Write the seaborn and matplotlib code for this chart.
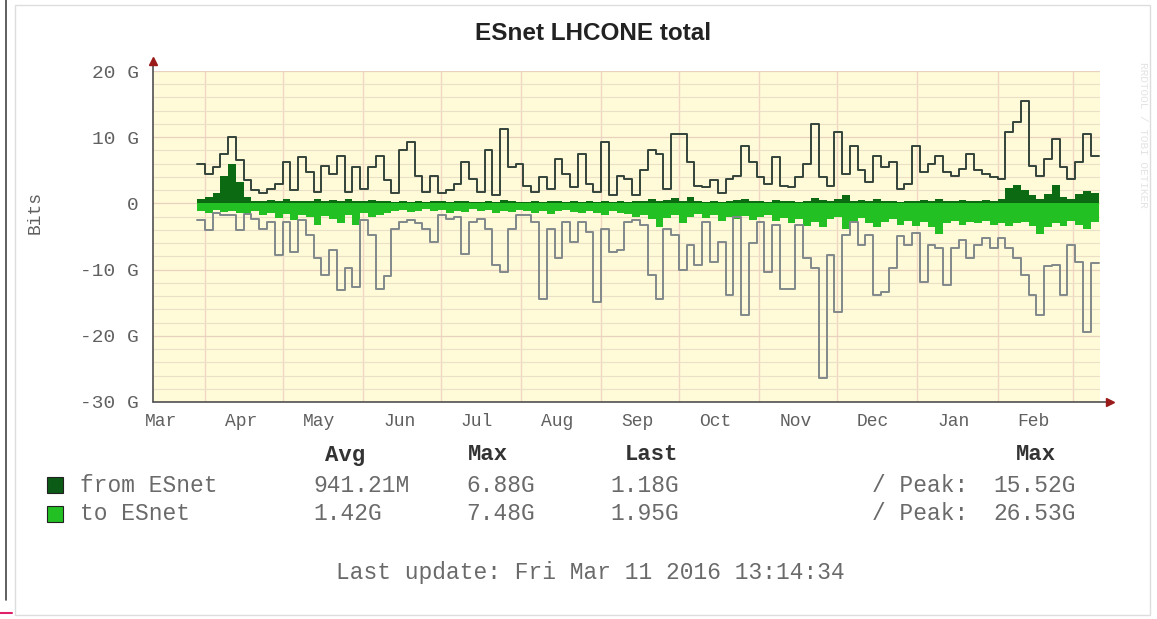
import numpy as np
import pandas as pd
import seaborn as sns
import matplotlib.pyplot as plt
from matplotlib.patches import Rectangle
from matplotlib.lines import Line2D

# 3-day samples from 2015-03-29 to 2016-03-11, values in Gbit/s
peak_from = [
    6.0, 4.5, 5.5, 7.5, 10.0, 6.5, 3.5, 2.0, 1.5, 2.2,
    3.0, 6.2, 2.0, 7.0, 4.7, 1.7, 5.7, 4.5, 7.2, 1.7,
    5.5, 2.2, 5.5, 7.2, 3.5, 1.5, 8.0, 9.2, 4.2, 1.7,
    4.2, 1.5, 2.0, 3.0, 6.2, 3.7, 1.7, 8.0, 1.2, 11.3,
    5.5, 6.0, 2.7, 1.7, 4.0, 2.2, 6.7, 4.5, 2.5, 7.5,
    3.0, 1.7, 9.2, 1.2, 4.2, 3.7, 1.2, 5.0, 8.0, 7.5,
    2.2, 10.5, 10.5, 6.2, 2.7, 2.5, 3.5, 1.5, 3.7, 4.2,
    8.7, 6.2, 4.0, 3.0, 7.0, 2.7, 2.5, 4.0, 6.0, 12.0,
    4.0, 2.7, 10.8, 4.5, 8.7, 5.0, 3.2, 7.2, 5.5, 6.2,
    2.2, 3.0, 8.7, 4.7, 6.0, 7.2, 4.7, 4.2, 5.2, 7.5,
    5.0, 4.5, 4.0, 3.7, 10.8, 12.3, 15.5, 5.7, 4.2, 6.7,
    9.7, 5.5, 3.7, 6.2, 10.5, 7.2]
peak_to = [
    -2.5, -4.0, -1.5, -1.8, -1.8, -4.0, -1.6, -2.3, -3.8, -2.8,
    -7.8, -2.8, -7.3, -2.5, -4.8, -8.3, -10.8, -7.0, -13.1, -9.8,
    -12.6, -2.5, -4.8, -12.9, -11.0, -3.8, -2.8, -2.5, -3.0, -3.8,
    -5.8, -1.8, -2.3, -2.0, -7.6, -2.8, -2.3, -3.8, -9.3, -10.4,
    -3.8, -1.8, -1.8, -2.8, -14.4, -3.8, -8.3, -2.8, -5.8, -2.8,
    -4.3, -14.9, -3.8, -7.3, -7.0, -2.8, -2.5, -3.3, -10.8, -14.4,
    -3.8, -4.8, -10.1, -6.3, -9.3, -2.8, -8.8, -5.8, -13.9, -2.0,
    -16.9, -6.0, -2.8, -10.4, -3.3, -12.9, -12.9, -3.3, -8.3, -9.8,
    -26.4, -7.8, -16.4, -4.8, -2.8, -6.3, -4.8, -13.9, -13.4, -9.8,
    -5.0, -6.3, -4.5, -11.9, -6.3, -6.8, -12.4, -6.8, -5.5, -8.3,
    -6.3, -5.3, -6.8, -5.3, -6.8, -8.3, -10.8, -13.9, -16.9, -9.5,
    -9.3, -13.9, -6.3, -8.8, -19.4, -9.0]
from_esnet = [
    0.6, 0.9, 1.6, 4.2, 6.0, 3.2, 1.0, 0.4, 0.3, 0.5,
    0.3, 0.6, 0.3, 0.4, 0.3, 0.6, 0.4, 0.5, 0.3, 0.6,
    0.4, 0.3, 0.5, 0.4, 0.3, 0.2, 0.3, 0.2, 0.4, 0.2,
    0.3, 0.3, 0.2, 0.3, 0.4, 0.2, 0.2, 0.3, 0.2, 0.5,
    0.3, 0.2, 0.2, 0.3, 0.2, 0.4, 0.3, 0.2, 0.3, 0.2,
    0.3, 0.2, 0.4, 0.2, 0.3, 0.2, 0.3, 0.4, 0.7, 0.3,
    0.5, 0.8, 0.4, 1.0, 0.3, 0.2, 0.4, 0.2, 0.3, 0.5,
    0.6, 0.4, 0.3, 0.2, 0.5, 0.3, 0.4, 0.2, 0.3, 0.8,
    0.5, 0.3, 0.6, 1.2, 0.4, 0.5, 0.3, 0.6, 0.4, 0.3,
    0.2, 0.4, 0.3, 0.5, 0.3, 0.6, 0.4, 0.3, 0.5, 0.4,
    0.3, 0.5, 0.4, 0.7, 2.4, 2.8, 2.0, 1.2, 0.7, 1.4,
    2.8, 1.0, 0.6, 1.4, 1.8, 1.6]
to_esnet = [
    1.2, 1.5, 1.0, 1.3, 1.1, 1.4, 1.6, 1.2, 1.8, 1.5,
    2.2, 1.6, 2.5, 1.8, 2.0, 3.2, 1.9, 2.4, 3.0, 1.7,
    3.2, 1.5, 2.0, 1.8, 1.4, 1.2, 1.0, 1.3, 1.1, 0.9,
    1.2, 1.0, 1.4, 1.1, 1.3, 0.9, 1.2, 1.0, 1.5, 1.1,
    1.3, 1.0, 1.2, 1.4, 1.1, 1.6, 1.2, 1.0, 1.3, 1.5,
    1.1, 1.4, 1.8, 1.2, 1.5, 1.6, 2.0, 1.7, 2.4, 3.6,
    2.2, 1.8, 3.0, 2.0, 1.6, 2.2, 1.8, 2.6, 2.0, 2.4,
    1.9, 2.5, 2.1, 1.8, 2.6, 2.2, 3.0, 2.4, 3.4, 2.8,
    3.6, 2.4, 2.0, 3.8, 2.6, 2.2, 3.0, 3.6, 2.8, 2.4,
    3.2, 2.6, 3.4, 2.8, 3.6, 4.6, 3.0, 2.6, 3.2, 2.8,
    3.0, 2.6, 3.2, 2.9, 3.4, 3.0, 2.8, 3.4, 4.6, 3.6,
    3.0, 3.4, 2.6, 3.2, 3.8, 2.8]

months = ["Mar", "Apr", "May", "Jun", "Jul", "Aug", "Sep", "Oct", "Nov", "Dec", "Jan", "Feb"]
y_ticks = [20, 10, 0, -10, -20, -30]
y_labels = ["20 G", "10 G", "0", "-10 G", "-20 G", "-30 G"]

series_names = ["from ESnet", "to ESnet"]
avg_vals = ["941.21M", "1.42G"]
max_vals = ["6.88G", "7.48G"]
last_vals = ["1.18G", "1.95G"]
peak_vals = ["15.52G", "26.53G"]

sns.set_style("white")
plt.rcParams['font.family'] = ['Liberation Mono', 'DejaVu Sans Mono']

W, H = 1157, 619
fig = plt.figure(figsize=(W / 100, H / 100), dpi=100)


def fx(x):
    return x / W


def fy(y):
    return 1 - y / H


ax = fig.add_axes([fx(153), fy(402), 947 / W, 331 / H])
ax.set_facecolor('#fffbd8')

dates = pd.date_range("2015-03-29", periods=len(peak_from) + 1, freq="3D")


def ext(v):
    return list(v) + [v[-1]]


df = pd.DataFrame({"date": dates, "peak_from": ext(peak_from), "peak_to": ext(peak_to),
                   "from_esnet": ext(from_esnet), "to_esnet": ext(to_esnet)})

ax.fill_between(df["date"], 0, -df["to_esnet"], step="post", color="#22c022", lw=0)
ax.fill_between(df["date"], 0, df["from_esnet"], step="post", color="#0b6a12", lw=0)
sns.lineplot(data=df, x="date", y="peak_from", drawstyle="steps-post", color="#34443a", lw=1.4, ax=ax)
sns.lineplot(data=df, x="date", y="peak_to", drawstyle="steps-post", color="#80888a", lw=1.4, ax=ax)

ax.set_xlim(pd.Timestamp("2015-03-12"), pd.Timestamp("2016-03-11 13:14"))
ax.set_ylim(-30, 20)

# grid
month_starts = pd.date_range("2015-04-01", "2016-03-01", freq="MS")
mid_months = pd.date_range("2015-03-01", "2016-02-01", freq="MS") + pd.Timedelta(days=14)
ax.set_xticks(month_starts)
ax.set_xticklabels([])
ax.set_xticks(mid_months, minor=True)
ax.set_xticklabels(months, minor=True)
ax.set_yticks(y_ticks)
ax.set_yticklabels(y_labels)
ax.set_yticks(np.arange(-30, 21, 2), minor=True)
ax.xaxis.grid(True, which="major", color="#f2d6c4", lw=1.0)
ax.yaxis.grid(True, which="minor", color="#ecdfc8", lw=0.8)
ax.yaxis.grid(True, which="major", color="#e8d2bf", lw=0.9)
ax.set_axisbelow(True)
ax.tick_params(axis="x", which="major", length=3, color="#606060")
ax.tick_params(axis="x", which="minor", length=0, pad=8, labelsize=13, labelcolor="#606060")
ax.tick_params(axis="y", which="major", length=4, pad=6, labelsize=14, labelcolor="#606060", color="#606060")
ax.tick_params(axis="y", which="minor", length=0)
ax.set_xlabel("")
ax.set_ylabel("")
for s in ax.spines.values():
    s.set_visible(False)

# axes with arrows
ax.plot([0, 0], [0, 1.03], transform=ax.transAxes, color="#505050", lw=1.2, clip_on=False)
ax.plot([0, 1.01], [0, 0], transform=ax.transAxes, color="#505050", lw=1.2, clip_on=False)
ax.plot(0, 1.03, marker="^", ms=6, color="#9a1a1a", transform=ax.transAxes, clip_on=False)
ax.plot(1.011, 0, marker=">", ms=6, color="#9a1a1a", transform=ax.transAxes, clip_on=False)

# title and axis label
fig.text(fx(593), fy(34), "ESnet LHCONE total", ha="center", va="center",
         fontsize=17.5, weight="bold", family="Liberation Sans", color="#222222")
fig.text(fx(35), fy(212), "Bits", rotation=90, ha="center", va="center", fontsize=13, color="#606060")

# legend table
hdr_y = fy(455)
for xc, t in [(345, "Avg"), (488, "Max"), (652, "Last"), (1036, "Max")]:
    fig.text(fx(xc), hdr_y, t, ha="center", va="center", fontsize=16, weight="bold", color="#333333")

swatch = ["#0b5a16", "#22c022"]
for i, name in enumerate(series_names):
    yc = 485 + 29 * i
    fig.patches.append(Rectangle((fx(47), fy(yc + 8)), 16 / W, 16 / H, transform=fig.transFigure,
                                 facecolor=swatch[i], edgecolor="#222222", lw=0.8))
    fig.text(fx(80), fy(yc), name, ha="left", va="center", fontsize=16.5, color="#6a6a6a")
    fig.text(fx(313), fy(yc), avg_vals[i], ha="left", va="center", fontsize=16.5, color="#6a6a6a")
    fig.text(fx(466), fy(yc), max_vals[i], ha="left", va="center", fontsize=16.5, color="#6a6a6a")
    fig.text(fx(610), fy(yc), last_vals[i], ha="left", va="center", fontsize=16.5, color="#6a6a6a")
    fig.text(fx(872), fy(yc), "/ Peak:", ha="left", va="center", fontsize=16.5, color="#6a6a6a")
    fig.text(fx(993), fy(yc), peak_vals[i], ha="left", va="center", fontsize=16.5, color="#6a6a6a")

fig.text(fx(590), fy(572), "Last update: Fri Mar 11 2016 13:14:34", ha="center", va="center",
         fontsize=16.5, color="#6a6a6a")

# watermark and frame
fig.text(fx(1143), fy(135), "RRDTOOL / TOBI OETIKER", rotation=270, ha="center", va="center",
         fontsize=8, color="#e4e4e4")
fig.patches.append(Rectangle((fx(15), fy(615)), 1135 / W, 610 / H, transform=fig.transFigure,
                             facecolor="none", edgecolor="#dddddd", lw=1.0))
fig.lines.append(Line2D([fx(6), fx(6)], [fy(0), fy(600)], transform=fig.transFigure, color="#444444", lw=1.2))
fig.lines.append(Line2D([fx(0), fx(12)], [fy(613), fy(613)], transform=fig.transFigure, color="#e0206a", lw=1.5))

plt.savefig("out.png", dpi=100)
